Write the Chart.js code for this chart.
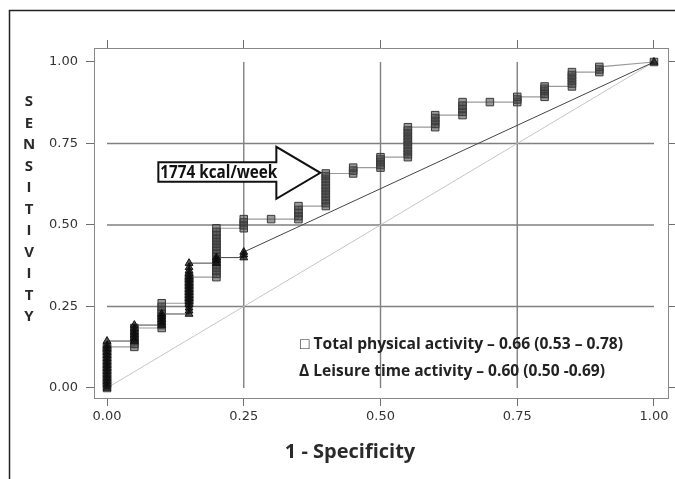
<!DOCTYPE html>
<html><head><meta charset="utf-8">
<script src="https://cdn.jsdelivr.net/npm/chart.js@4.4.1/dist/chart.umd.min.js"></script>
<style>html,body{margin:0;padding:0;background:#fff;}canvas{display:block;}</style>
</head><body><canvas id="c" width="675" height="479"></canvas>
<script>
// ---- data ----
const AXIS_TICKS = [0, 0.25, 0.5, 0.75, 1];
const GRID_VALUES = [0.25, 0.5, 0.75];
// Total physical activity (squares): false-positive rate of each step and the stacked sensitivities at it
const tpaFpr = [0, 0.05, 0.10, 0.15, 0.20, 0.25, 0.30, 0.35, 0.40, 0.45, 0.50, 0.55, 0.60, 0.65, 0.70, 0.75, 0.80, 0.85, 0.90, 1.00];
const tpaTpr = [
  [0.000, 0.010, 0.019, 0.028, 0.038, 0.047, 0.057, 0.066, 0.075, 0.085, 0.094, 0.104, 0.113, 0.121, 0.126],
  [0.126, 0.135, 0.144, 0.153, 0.163, 0.172, 0.184],
  [0.184, 0.193, 0.202, 0.212, 0.221, 0.230, 0.239, 0.249, 0.260],
  [0.260, 0.270, 0.279, 0.288, 0.298, 0.307, 0.316, 0.325, 0.334, 0.340],
  [0.340, 0.350, 0.359, 0.368, 0.377, 0.387, 0.396, 0.405, 0.414, 0.424, 0.433, 0.442, 0.451, 0.460, 0.469, 0.479, 0.490],
  [0.490, 0.499, 0.508, 0.518],
  [0.518],
  [0.518, 0.527, 0.537, 0.546, 0.558],
  [0.558, 0.567, 0.576, 0.586, 0.595, 0.604, 0.613, 0.622, 0.632, 0.641, 0.650, 0.658],
  [0.658, 0.667, 0.676],
  [0.676, 0.684, 0.693, 0.701, 0.708],
  [0.708, 0.717, 0.726, 0.735, 0.745, 0.754, 0.763, 0.772, 0.781, 0.790, 0.800],
  [0.800, 0.810, 0.819, 0.828, 0.837],
  [0.837, 0.847, 0.856, 0.866, 0.877],
  [0.877],
  [0.877, 0.885, 0.893],
  [0.893, 0.902, 0.911, 0.918, 0.925],
  [0.925, 0.934, 0.943, 0.952, 0.960, 0.969],
  [0.969, 0.977, 0.985],
  [1.000]
];
// Leisure time activity (triangles)
const ltaFpr = [0, 0.05, 0.10, 0.15, 0.20, 0.25, 1.00];
const ltaTpr = [
  [0.000, 0.010, 0.020, 0.030, 0.040, 0.050, 0.060, 0.070, 0.080, 0.090, 0.100, 0.110, 0.120, 0.130, 0.144],
  [0.144, 0.153, 0.163, 0.172, 0.182, 0.193],
  [0.193, 0.202, 0.211, 0.219, 0.227],
  [0.227, 0.237, 0.246, 0.256, 0.265, 0.275, 0.284, 0.294, 0.303, 0.313, 0.322, 0.332, 0.341, 0.351, 0.360, 0.370, 0.383],
  [0.383, 0.392, 0.400],
  [0.400, 0.409, 0.417],
  [1.000]
];
const refLine = [0, 1];
const xTitle = '1 - Specificity';
const yTitle = 'SENSITIVITY';
const legendLines = ['\u25A1 Total physical activity \u2013 0.66 (0.53 \u2013 0.78)', '\u0394 Leisure time activity \u2013 0.60 (0.50 -0.69)'];
const cutoffLabel = '1774 kcal/week';
const cutoffPoint = [0.39, 0.66];
const X_RANGE = [-0.0238, 1.0256];
const Y_RANGE = [-0.0307, 1.0429];

function toPoints(fpr, stacks){ const pts = []; fpr.forEach((x, i) => stacks[i].forEach(y => pts.push({x, y}))); return pts; }

const fixTicks = s => { s.ticks = AXIS_TICKS.map(v => ({value: v})); };
const gridOpt = {drawOnChartArea: false, drawTicks: true, tickLength: 8, color: '#6e6e6e', lineWidth: 1};
const borderOpt = {display: true, color: '#888', width: 1};
const tickFont = {family: 'DejaVu Sans', size: 13};

const decor = {
  id: 'decor',
  beforeDatasetsDraw(chart){
    const {ctx, scales: {x, y}} = chart;
    ctx.save();
    ctx.strokeStyle = '#808080'; ctx.lineWidth = 1.4;
    GRID_VALUES.forEach(v => {
      const px = x.getPixelForValue(v), py = y.getPixelForValue(v);
      ctx.beginPath(); ctx.moveTo(px, y.getPixelForValue(0)); ctx.lineTo(px, y.getPixelForValue(1)); ctx.stroke();
      ctx.beginPath(); ctx.moveTo(x.getPixelForValue(0), py); ctx.lineTo(x.getPixelForValue(1), py); ctx.stroke();
    });
    ctx.restore();
  },
  afterDatasetsDraw(chart){
    const {ctx, scales: {x, y}} = chart;
    const tx = x.getPixelForValue(cutoffPoint[0]), ty = y.getPixelForValue(cutoffPoint[1]);
    ctx.save();
    ctx.beginPath();
    ctx.moveTo(tx - 162, ty - 10.5);
    ctx.lineTo(tx - 44, ty - 10.5);
    ctx.lineTo(tx - 44, ty - 26);
    ctx.lineTo(tx, ty);
    ctx.lineTo(tx - 44, ty + 26);
    ctx.lineTo(tx - 44, ty + 9);
    ctx.lineTo(tx - 162, ty + 9);
    ctx.closePath();
    ctx.fillStyle = '#fff'; ctx.fill();
    ctx.strokeStyle = '#111'; ctx.lineWidth = 2; ctx.lineJoin = 'miter'; ctx.stroke();
    ctx.fillStyle = '#111';
    ctx.font = 'bold 17px "Open Sans"';
    ctx.textBaseline = 'alphabetic'; ctx.textAlign = 'left';
    ctx.fillText(cutoffLabel, tx - 160, ty + 5.5, 117);
    ctx.restore();
  },
  afterDraw(chart){
    const {ctx, chartArea: a} = chart;
    ctx.save();
    // outer frame
    ctx.strokeStyle = '#222'; ctx.lineWidth = 1.5;
    ctx.beginPath(); ctx.moveTo(9.5, 479); ctx.lineTo(9.5, 10.5); ctx.lineTo(675, 10.5); ctx.stroke();
    // y title, stacked letters
    ctx.fillStyle = '#2a2a2a';
    ctx.font = 'bold 15px "Open Sans"';
    ctx.textAlign = 'center'; ctx.textBaseline = 'middle';
    [...yTitle].forEach((ch, i) => ctx.fillText(ch, 29, 102 + i * 21.5));
    // x title
    ctx.font = 'bold 20px "Open Sans"';
    ctx.fillText(xTitle, 350, a.bottom + 54);
    // legend text
    ctx.fillStyle = '#222';
    ctx.font = 'bold 16px "Open Sans"';
    ctx.textAlign = 'left'; ctx.textBaseline = 'alphabetic';
    ctx.fillText(legendLines[0], 300, 349, 323);
    ctx.fillText(legendLines[1], 299, 376, 306);
    ctx.restore();
  }
};

new Chart(document.getElementById('c'), {
  type: 'scatter',
  data: {
    datasets: [
      {
        label: 'Leisure time activity',
        data: toPoints(ltaFpr, ltaTpr),
        showLine: true, tension: 0,
        borderColor: '#444', borderWidth: 1,
        pointStyle: 'triangle', pointRadius: 4.5,
        pointBorderColor: '#111', pointBackgroundColor: 'rgba(10,10,10,0.7)', pointBorderWidth: 1
      },
      {
        label: 'Total physical activity',
        data: toPoints(tpaFpr, tpaTpr),
        showLine: true, tension: 0,
        borderColor: '#9a9a9a', borderWidth: 1.2,
        pointStyle: 'rect', pointRadius: 5.3,
        pointBorderColor: '#3a3a3a', pointBackgroundColor: 'rgba(70,70,70,0.55)', pointBorderWidth: 1
      },
      {
        label: 'reference',
        data: refLine.map(v => ({x: v, y: v})),
        showLine: true, borderColor: '#c6c6c6', borderWidth: 1, pointRadius: 0
      }
    ]
  },
  options: {
    responsive: false, animation: false, devicePixelRatio: 1,
    layout: {padding: 0},
    plugins: {legend: {display: false}, tooltip: {enabled: false}},
    scales: {
      x: {type: 'linear', position: 'bottom', min: X_RANGE[0], max: X_RANGE[1],
          afterBuildTicks: fixTicks, afterFit: s => { s.height = 81; },
          ticks: {callback: v => v.toFixed(2), font: tickFont, color: '#333', padding: 3, maxRotation: 0, autoSkip: false},
          grid: gridOpt, border: borderOpt},
      x2: {type: 'linear', position: 'top', min: X_RANGE[0], max: X_RANGE[1],
          afterBuildTicks: fixTicks, afterFit: s => { s.height = 48; },
          ticks: {display: false}, grid: gridOpt, border: borderOpt},
      y: {type: 'linear', position: 'left', min: Y_RANGE[0], max: Y_RANGE[1],
          afterBuildTicks: fixTicks, afterFit: s => { s.width = 94; },
          ticks: {callback: v => v.toFixed(2), font: tickFont, color: '#333', padding: 8},
          grid: gridOpt, border: borderOpt},
      y2: {type: 'linear', position: 'right', min: Y_RANGE[0], max: Y_RANGE[1],
          afterBuildTicks: fixTicks, afterFit: s => { s.width = 7; },
          ticks: {display: false}, grid: gridOpt, border: borderOpt}
    }
  },
  plugins: [decor]
});
</script>
</body></html>
